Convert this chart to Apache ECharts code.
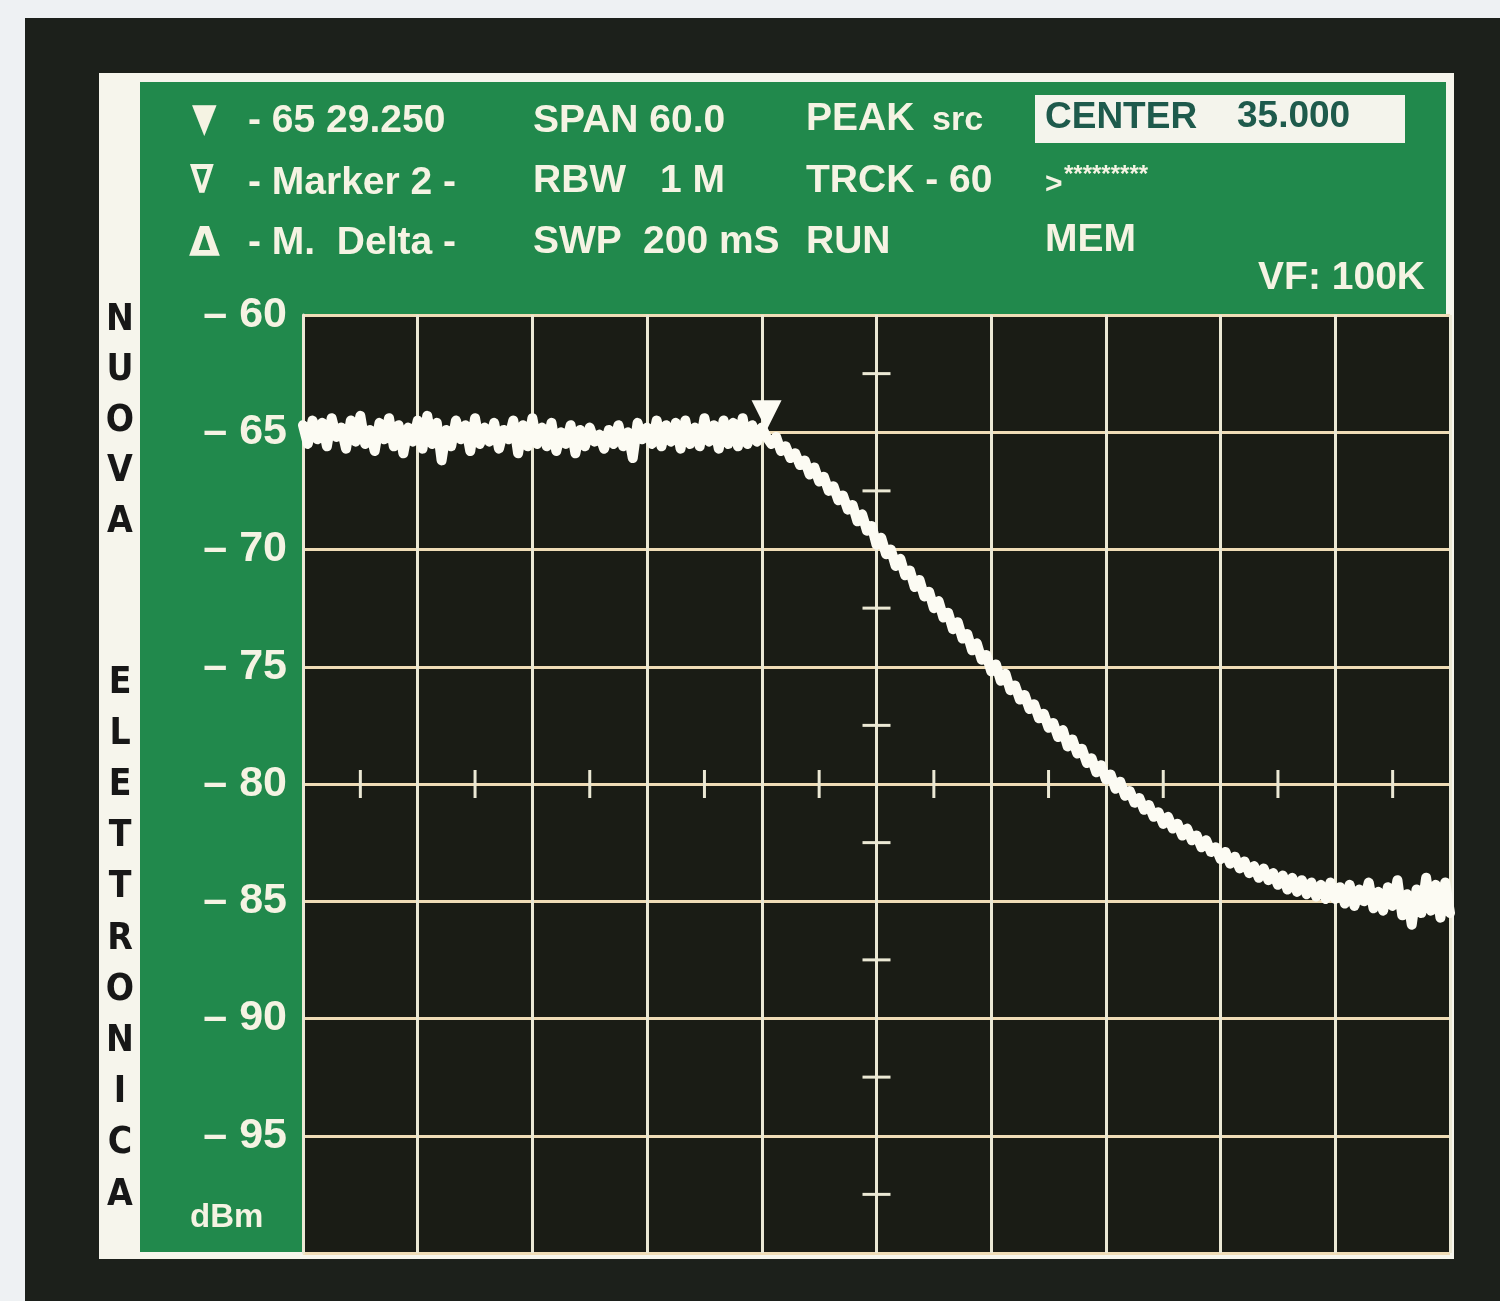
<!DOCTYPE html>
<html>
<head>
<meta charset="utf-8">
<script src="https://cdn.jsdelivr.net/npm/echarts@6/dist/echarts.min.js"></script>
<style>
html,body{margin:0;padding:0;background:#eef1f3;}
#chart{width:1500px;height:1301px;}
</style>
</head>
<body>
<div id="chart"></div>
<script>
const SPAN_START_MHZ = 5;      // CENTER 35.000, SPAN 60.0
const SPAN_STOP_MHZ = 65;
const FREQ_STEP_MHZ = 0.25;    // one reading every 0.25 MHz
const LEVELS_DBM = [
  // 5.00 - 7.25
  -64.7,-65.5,-64.5,-65.3,-64.6,-65.6,-64.4,-65.2,-64.8,-65.7,
  // 7.50 - 9.75
  -64.5,-65.4,-64.3,-65.5,-64.9,-65.8,-64.6,-65.3,-64.4,-65.6,
  // 10.00 - 12.25
  -64.7,-65.9,-64.8,-65.4,-64.5,-65.7,-64.3,-65.5,-64.6,-66.2,
  // 12.50 - 14.75
  -64.9,-65.6,-64.5,-65.3,-64.7,-65.8,-64.4,-65.5,-64.8,-65.4,
  // 15.00 - 17.25
  -64.6,-65.7,-64.9,-65.3,-64.5,-65.9,-64.7,-65.6,-64.4,-65.5,
  // 17.50 - 19.75
  -64.8,-65.6,-64.6,-65.8,-65.0,-65.5,-64.7,-65.9,-64.9,-65.6,
  // 20.00 - 22.25
  -64.8,-65.4,-65.1,-65.7,-64.9,-65.5,-64.7,-65.6,-65.0,-66.1,
  // 22.50 - 24.75
  -64.6,-65.3,-64.8,-65.5,-64.5,-65.6,-64.7,-65.4,-64.6,-65.7,
  // 25.00 - 27.25
  -64.5,-65.5,-64.8,-65.6,-64.4,-65.4,-64.7,-65.7,-64.5,-65.5,
  // 27.50 - 29.25
  -64.6,-65.6,-64.4,-65.5,-64.7,-65.4,-64.8,-65.2,
  // 29.50 - 31.75
  -65.5,-65.2,-65.8,-65.6,-66.1,-65.9,-66.4,-66.2,-66.8,-66.5,
  // 32.00 - 34.25
  -67.1,-66.9,-67.5,-67.3,-67.9,-67.7,-68.3,-68.1,-68.8,-68.5,
  // 34.50 - 36.75
  -69.2,-69.0,-69.8,-69.5,-70.2,-70.0,-70.7,-70.4,-71.1,-70.9,
  // 37.00 - 39.25
  -71.6,-71.3,-72.0,-71.8,-72.5,-72.2,-72.9,-72.7,-73.4,-73.1,
  // 39.50 - 41.75
  -73.8,-73.6,-74.3,-74.0,-74.7,-74.5,-75.2,-74.9,-75.6,-75.3,
  // 42.00 - 44.25
  -76.0,-75.8,-76.4,-76.2,-76.8,-76.6,-77.2,-77.0,-77.6,-77.4,
  // 44.50 - 46.75
  -78.0,-77.7,-78.4,-78.1,-78.7,-78.5,-79.1,-78.9,-79.5,-79.2,
  // 47.00 - 49.25
  -79.8,-79.6,-80.2,-79.9,-80.5,-80.3,-80.8,-80.6,-81.1,-80.9,
  // 49.50 - 51.75
  -81.4,-81.2,-81.7,-81.4,-81.9,-81.7,-82.2,-81.9,-82.4,-82.2,
  // 52.00 - 54.25
  -82.7,-82.4,-82.9,-82.7,-83.2,-82.9,-83.4,-83.1,-83.6,-83.3,
  // 54.50 - 56.75
  -83.8,-83.5,-84.0,-83.6,-84.1,-83.8,-84.3,-83.9,-84.5,-84.0,
  // 57.00 - 59.25
  -84.6,-84.1,-84.7,-84.2,-84.8,-84.3,-84.9,-84.2,-84.9,-84.4,
  // 59.50 - 61.75
  -85.1,-84.3,-85.2,-84.5,-85.0,-84.2,-85.3,-84.6,-85.4,-84.4,
  // 62.00 - 64.25
  -85.2,-84.1,-85.6,-84.7,-86.0,-84.5,-85.5,-84.0,-85.4,-84.3,
  // 64.50 - 65.00
  -85.7,-84.2,-85.5
];
const LEVEL_TICKS_DBM = [-60, -65, -70, -75, -80, -85, -90, -95, -100];
const MINOR_LEVEL_TICKS_DBM = [-62.5, -67.5, -72.5, -77.5, -82.5, -87.5, -92.5, -97.5];
const MINOR_FREQ_TICKS_MHZ = [8, 14, 20, 26, 32, 38, 44, 50, 56, 62];
const CENTER_MHZ = 35;
const MINOR_TICK_LEVEL_DBM = -80;
const MARKER_MHZ = 29.25;
const MARKER_DBM = -65;
const BRAND_TOP = ['N','U','O','V','A'];
const BRAND_BOTTOM = ['E','L','E','T','T','R','O','N','I','C','A'];

// ---- styles ----
const GREEN = '#21894c';
const SCREEN = '#1a1c15';
const INK = '#f5f3e3';
const GRID_V = '#ebe8d4';
const GRID_H = '#efdcb6';
const TRACE = '#fcfbf3';
const HEAD_FONT = 'bold 39px "Liberation Sans", Arial, Helvetica, sans-serif';
const BOX_FONT = 'bold 37px "Liberation Sans", Arial, Helvetica, sans-serif';
const SYM_FONT = 'bold 40px "DejaVu Sans", sans-serif';
const BRAND_FONT = 'bold 37px "Liberation Sans Narrow", "DejaVu Sans Condensed", "Liberation Sans", Arial, sans-serif';

const toOffset = f => f - SPAN_START_MHZ;
const traceData = LEVELS_DBM.map((v, i) => [i * FREQ_STEP_MHZ, v]);

const chart = echarts.init(document.getElementById('chart'), null, {renderer: 'canvas'});

function txt(text, x, y, opts) {
  opts = opts || {};
  return {
    type: 'text', x: x, y: y, z: 50,
    scaleX: opts.scaleX || 1,
    style: {
      text: text,
      font: opts.font || HEAD_FONT,
      fill: opts.fill || INK,
      textAlign: opts.align || 'left',
      textVerticalAlign: 'middle',
      align: opts.align || 'left',
      verticalAlign: 'middle',
      lineHeight: opts.lineHeight
    }
  };
}

const graphics = [
  // black frame
  {type: 'rect', z: -30, shape: {x: 25, y: 18, width: 1475, height: 1283}, style: {fill: '#1c201b'}},
  // white border
  {type: 'rect', z: -20, shape: {x: 99, y: 73, width: 1355, height: 1186}, style: {fill: '#f6f5ec'}},
  // green panel
  {type: 'rect', z: -10, shape: {x: 140, y: 82, width: 1306, height: 1170}, style: {fill: GREEN}},
  // centre box
  {type: 'rect', z: 40, shape: {x: 1035, y: 95, width: 370, height: 48}, style: {fill: '#f4f4ec'}},

  txt('\u25BC', 192, 121, {font: SYM_FONT, scaleX: 0.8}),
  txt('- 65 29.250', 248, 121),
  txt('SPAN 60.0', 533, 121),
  txt('PEAK', 806, 119),
  txt('src', 932, 121, {font: 'bold 34px "Liberation Sans", Arial, sans-serif'}),
  txt('CENTER', 1045, 118, {fill: '#1e5a4c', font: BOX_FONT}),
  txt('35.000', 1237, 117, {fill: '#1e5a4c', font: BOX_FONT}),

  txt('\u2207', 190, 183, {font: SYM_FONT, scaleX: 0.85}),
  txt('- Marker 2 -', 248, 183),
  txt('RBW', 533, 181),
  txt('1 M', 660, 181),
  txt('TRCK - 60', 806, 181),
  txt('>', 1045, 185, {font: 'bold 30px "Liberation Sans", Arial, sans-serif'}),
  txt('*********', 1064, 175, {font: 'bold 24px "Liberation Sans", Arial, sans-serif'}),

  txt('\u0394', 189, 246, {font: SYM_FONT}),
  txt('- M.  Delta -', 248, 243),
  txt('SWP', 533, 242),
  txt('200 mS', 643, 242),
  txt('RUN', 806, 242),
  txt('MEM', 1045, 240),
  txt('VF: 100K', 1425, 278, {align: 'right'}),

  txt('dBm', 190, 1218, {font: 'bold 33px "Liberation Sans", Arial, sans-serif'}),

  txt(BRAND_TOP.join('\n'), 120, 421, {align: 'center', fill: '#171717', lineHeight: 50.5, font: BRAND_FONT}),
  txt(BRAND_BOTTOM.join('\n'), 120, 939, {align: 'center', fill: '#171717', lineHeight: 51.2, font: BRAND_FONT})
];

const option = {
  backgroundColor: '#eef1f3',
  animation: false,
  graphic: {elements: graphics},
  grid: {left: 303, top: 315, width: 1147, height: 938, show: true,
         backgroundColor: SCREEN, borderWidth: 0, z: 0},
  xAxis: {
    type: 'value', min: 0, max: toOffset(SPAN_STOP_MHZ), interval: 6, z: 2,
    axisLine: {show: false}, axisTick: {show: false}, axisLabel: {show: false},
    splitLine: {show: true, lineStyle: {color: GRID_V, width: 3}}
  },
  yAxis: {
    type: 'value', min: -100, max: -60, interval: 5, z: 2,
    axisLine: {show: true, onZero: false, lineStyle: {color: GRID_V, width: 3}},
    axisTick: {show: false},
    axisLabel: {
      margin: 16, color: INK, fontSize: 43, fontWeight: 'bold',
      fontFamily: '"Liberation Sans", Arial, sans-serif',
      formatter: v => (LEVEL_TICKS_DBM.indexOf(v) >= 0 && v !== -100) ? '\u2013 ' + Math.abs(v) : ''
    },
    splitLine: {show: true, lineStyle: {color: GRID_H, width: 3}}
  },
  series: [
    {
      type: 'scatter', z: 3, silent: true,
      symbol: 'rect', symbolSize: [28, 3],
      itemStyle: {color: GRID_V, opacity: 1},
      data: MINOR_LEVEL_TICKS_DBM.map(v => [toOffset(CENTER_MHZ), v])
    },
    {
      type: 'scatter', z: 3, silent: true,
      symbol: 'rect', symbolSize: [3, 28],
      itemStyle: {color: GRID_V, opacity: 1},
      data: MINOR_FREQ_TICKS_MHZ.map(f => [toOffset(f), MINOR_TICK_LEVEL_DBM])
    },
    {
      type: 'line', z: 5, silent: true, showSymbol: false,
      lineStyle: {color: TRACE, width: 10, join: 'round', cap: 'round'},
      data: traceData
    },
    {
      type: 'scatter', z: 6, silent: true,
      symbol: 'triangle', symbolRotate: 180, symbolSize: [30, 30], symbolOffset: [0, -17],
      itemStyle: {color: TRACE, opacity: 1},
      data: [[toOffset(MARKER_MHZ), MARKER_DBM]]
    }
  ]
};
chart.setOption(option);
</script>
</body>
</html>
